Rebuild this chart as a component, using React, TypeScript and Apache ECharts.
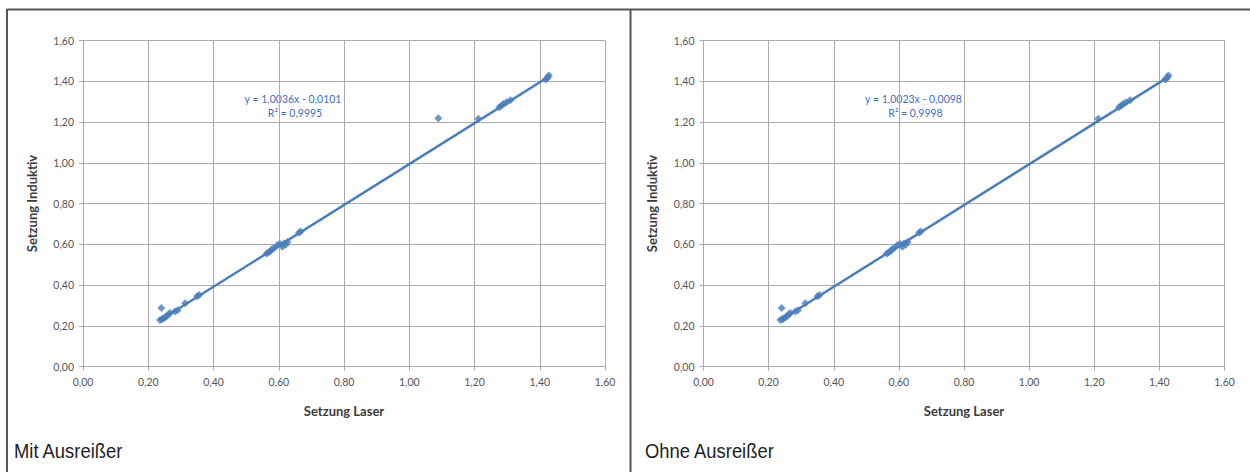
import React, { useEffect, useRef } from "react";
import * as echarts from "echarts";

// Paired settlement readings: laser reference vs. inductive sensor
const laser = [
  0.240, 0.236, 0.242, 0.246, 0.251, 0.256, 0.262, 0.267, 0.282, 0.290, 0.313,
  0.350, 0.356, 0.563, 0.568, 0.574, 0.580, 0.587, 0.596, 0.604, 0.611, 0.616,
  0.621, 0.627, 0.662, 0.667, 1.212, 1.276, 1.283, 1.290, 1.298, 1.310, 1.418,
  1.422, 1.425, 1.428,
];
const induktiv = [
  0.287, 0.228, 0.232, 0.235, 0.242, 0.246, 0.256, 0.262, 0.270, 0.276, 0.311,
  0.345, 0.351, 0.554, 0.560, 0.566, 0.577, 0.583, 0.596, 0.601, 0.588, 0.604,
  0.598, 0.611, 0.656, 0.662, 1.216, 1.273, 1.281, 1.289, 1.297, 1.307, 1.408,
  1.414, 1.421, 1.428,
];
// The single outlier that is dropped in the second panel
const ausreisserLaser = [1.089];
const ausreisserInduktiv = [1.219];

const panelTitles = ["Mit Ausreißer", "Ohne Ausreißer"];
const trendSlope = [1.0036, 1.0023];
const trendIntercept = [-0.0101, -0.0098];
const rSquared = [0.9995, 0.9998];

const axisMin = 0;
const axisMax = 1.6;
const axisStep = 0.2;

const BLUE = "#4a7ebb";
const GRID = "#ababab";
const LABEL = "#555555";
const FONT = "Lato, 'Open Sans', sans-serif";

const comma = (v: number, d: number) => v.toFixed(d).replace(".", ",");

const panels = [
  {
    xs: [...laser, ...ausreisserLaser],
    ys: [...induktiv, ...ausreisserInduktiv],
  },
  { xs: laser, ys: induktiv },
];

export default function App() {
  const ref = useRef<HTMLDivElement>(null);

  useEffect(() => {
    if (!ref.current) return;
    const chart = echarts.init(ref.current, undefined, { renderer: "svg" });

    const gridPos = [
      { left: 83, top: 40.5, width: 522, height: 326 },
      { left: 703.5, top: 40.5, width: 521, height: 326 },
    ];

    const xAxis: any[] = [];
    const yAxis: any[] = [];
    const series: any[] = [];
    const graphic: any[] = [];

    const axisCommon = (i: number) => ({
      gridIndex: i,
      type: "value",
      min: axisMin,
      max: axisMax,
      interval: axisStep,
      axisLine: { show: true, lineStyle: { color: GRID, width: 1 } },
      axisTick: { show: true, length: 4, lineStyle: { color: GRID } },
      splitLine: { show: true, lineStyle: { color: GRID, width: 1 } },
      axisLabel: {
        formatter: (v: number) => comma(v, 2),
        color: LABEL,
        fontSize: 10.5,
        fontFamily: FONT,
      },
      nameLocation: "middle",
      nameTextStyle: {
        fontWeight: "bold",
        fontSize: 13,
        color: "#3c3c3c",
        fontFamily: FONT,
      },
    });

    panels.forEach((p, i) => {
      const ax = axisCommon(i);
      xAxis.push({
        ...ax,
        name: "Setzung Laser",
        nameGap: 38,
        axisLabel: { ...ax.axisLabel, margin: 10 },
      });
      yAxis.push({
        ...ax,
        name: "Setzung Induktiv",
        nameGap: 45,
        axisLabel: { ...ax.axisLabel, margin: 9 },
      });

      const pts = p.xs.map((x, k) => [x, p.ys[k]]);
      const xLo = Math.min(...p.xs);
      const xHi = Math.max(...p.xs);
      const a = trendSlope[i];
      const b = trendIntercept[i];

      series.push({
        type: "scatter",
        xAxisIndex: i,
        yAxisIndex: i,
        symbol: "diamond",
        symbolSize: 8,
        itemStyle: { color: BLUE },
        data: pts,
        z: 2,
      });
      series.push({
        type: "line",
        xAxisIndex: i,
        yAxisIndex: i,
        showSymbol: false,
        symbol: "none",
        lineStyle: { color: BLUE, width: 2.5 },
        data: [
          [xLo, a * xLo + b],
          [xHi, a * xHi + b],
        ],
        z: 3,
      });

      const g = gridPos[i];
      const eqX = g.left + 210;
      const sign = b < 0 ? "-" : "+";
      graphic.push({
        type: "text",
        x: eqX,
        y: 98.5,
        style: {
          text: `y = ${comma(a, 4)}x ${sign} ${comma(Math.abs(b), 4)}`,
          fill: "#3f6fc0",
          font: `10.5px ${FONT}`,
          align: "center",
          verticalAlign: "middle",
        },
      });
      graphic.push({
        type: "text",
        x: eqX + 2,
        y: 113,
        style: {
          text: `R² = ${comma(rSquared[i], 4)}`,
          fill: "#3f6fc0",
          font: `10.5px ${FONT}`,
          align: "center",
          verticalAlign: "middle",
        },
      });
      graphic.push({
        type: "text",
        x: i === 0 ? 14 : 645,
        y: 451,
        scaleX: 0.92,
        style: {
          text: panelTitles[i],
          fill: "#1e1e1e",
          font: `20px 'Liberation Sans', Arial, sans-serif`,
          verticalAlign: "middle",
        },
      });
    });

    // Panel frames
    const frame = { stroke: "#555555", lineWidth: 2 };
    graphic.push(
      { type: "line", shape: { x1: 7, y1: 9.5, x2: 1250, y2: 9.5 }, style: frame },
      { type: "line", shape: { x1: 7, y1: 9, x2: 7, y2: 472 }, style: frame },
      { type: "line", shape: { x1: 630.5, y1: 9, x2: 630.5, y2: 472 }, style: frame }
    );

    chart.setOption({
      animation: false,
      backgroundColor: "#ffffff",
      grid: gridPos,
      xAxis,
      yAxis,
      series,
      graphic,
    });

    return () => chart.dispose();
  }, []);

  return (
    <div
      ref={ref}
      style={{ position: "absolute", left: 0, top: 0, width: 1250, height: 472 }}
    />
  );
}
